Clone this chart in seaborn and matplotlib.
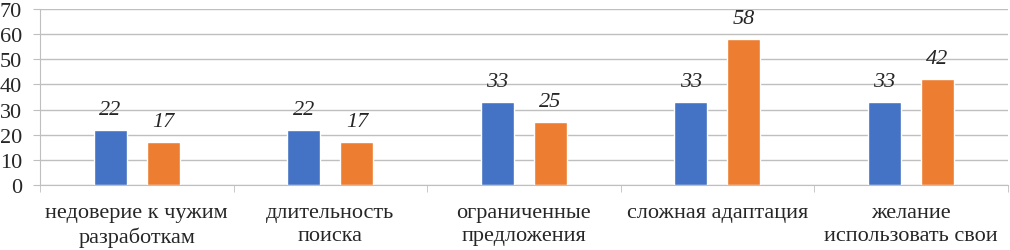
import matplotlib
matplotlib.use("Agg")
import matplotlib.pyplot as plt
import numpy as np
import pandas as pd
import seaborn as sns

categories = [
    "недоверие к чужим\nразработкам",
    "длительность\nпоиска",
    "ограниченные\nпредложения",
    "сложная адаптация",
    "желание\nиспользовать свои",
]
series_names = ["Ряд 1", "Ряд 2"]
series_1 = [22, 22, 33, 33, 33]
series_2 = [17, 17, 25, 58, 42]
colors = ["#4472C4", "#ED7D31"]
y_ticks = [0, 10, 20, 30, 40, 50, 60, 70]

sns.set_style("white")
plt.rcParams["font.family"] = ["Liberation Serif", "DejaVu Serif"]

df = pd.DataFrame({
    "category": categories * 2,
    "series": [series_names[0]] * len(categories) + [series_names[1]] * len(categories),
    "value": series_1 + series_2,
})

fig = plt.figure(figsize=(10.10, 2.51), dpi=100)
ax = fig.add_axes([0.0396, 0.259, 0.958, 0.701])

sns.barplot(
    data=df, x="category", y="value", hue="series", order=categories,
    hue_order=series_names, palette=colors, width=0.55, gap=0.38,
    saturation=1, legend=False, ax=ax,
)

for container in ax.containers:
    ax.bar_label(container, fmt="%d", padding=8, fontsize=16, fontstyle="italic")

ax.set_ylim(0, 70)
ax.set_xlim(-0.5, len(categories) - 0.5)
ax.set_yticks(y_ticks)
ax.yaxis.grid(True, color="#BFBFBF", linewidth=1)
ax.set_axisbelow(True)
ax.set_xlabel("")
ax.set_ylabel("")

for side in ["top", "right"]:
    ax.spines[side].set_visible(False)
ax.spines["left"].set_color("#BFBFBF")
ax.spines["bottom"].set_color("#BFBFBF")

ax.tick_params(axis="y", labelsize=16, length=5, color="#BFBFBF", pad=8, left=True)
ax.tick_params(axis="x", labelsize=16, length=0, pad=13)
ax.set_xticks(np.arange(-0.5, len(categories)), minor=True)
ax.tick_params(axis="x", which="minor", length=5, color="#BFBFBF", bottom=True)
for lbl in ax.get_xticklabels():
    lbl.set_linespacing(1.3)

fig.savefig("out.png", dpi=100)
